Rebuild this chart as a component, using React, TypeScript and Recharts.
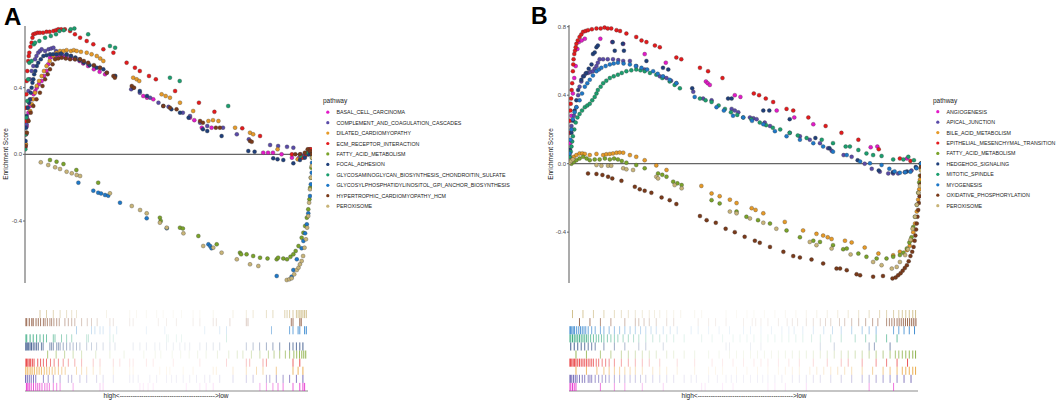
import { ReferenceLine, Scatter, ScatterChart, XAxis, YAxis } from 'recharts';

type Pt = [number, number];

const FONT = '"Liberation Sans", Arial, Helvetica, sans-serif';

// ---------- panel A ----------
const A_NAMES = [
  'BASAL_CELL_CARCINOMA',
  'COMPLEMENT_AND_COAGULATION_CASCADES',
  'DILATED_CARDIOMYOPATHY',
  'ECM_RECEPTOR_INTERACTION',
  'FATTY_ACID_METABOLISM',
  'FOCAL_ADHESION',
  'GLYCOSAMINOGLYCAN_BIOSYNTHESIS_CHONDROITIN_SULFATE',
  'GLYCOSYLPHOSPHATIDYLINOSITOL_GPI_ANCHOR_BIOSYNTHESIS',
  'HYPERTROPHIC_CARDIOMYOPATHY_HCM',
  'PEROXISOME',
];
const A_COLORS = ['#e31ac8', '#5a4ba8', '#e69a28', '#e41a1c', '#7aa32a', '#1f3f7a', '#1b9e6e', '#1e78c8', '#7a3a1a', '#c8b478'];

const A_BASAL: Pt[] = [[0.2,0.05],[0.4,0.12],[0.6,0.17],[0.9,0.21],[1.2,0.25],[1.7,0.29],[2.3,0.33],[3,0.36],[3.6,0.38],[4.1,0.4],[4.8,0.42],[5.8,0.44],[6.6,0.47],[7.5,0.5],[8.1,0.54],[8.7,0.58],[9.6,0.585],[10.5,0.59],[11.5,0.59],[12.5,0.585],[13.6,0.585],[14.6,0.58],[16,0.575],[17.5,0.57],[19,0.56],[20.3,0.545],[22,0.53],[24,0.51],[26,0.495],[27.9,0.48],[41.2,0.35],[42.5,0.34],[44.7,0.33],[57.5,0.22],[59,0.205],[61.6,0.16],[65,0.16],[83,0.01],[84.7,0.01],[86.4,0.01],[89.4,0],[93,-0.02],[95.5,-0.02],[97,-0.01],[98,0],[99,0.02],[99.6,0.015],[100,0.01]];
const A_COMPLEMENT: Pt[] = [[0.2,0.06],[0.5,0.18],[0.8,0.28],[1.2,0.38],[1.7,0.45],[2.3,0.5],[2.9,0.53],[3.5,0.57],[4,0.59],[4.6,0.61],[5.2,0.62],[5.8,0.63],[7,0.62],[8.2,0.63],[9.1,0.635],[9.9,0.64],[10.8,0.62],[11.8,0.605],[13,0.6],[14.5,0.595],[16,0.59],[17.6,0.58],[19,0.57],[20.3,0.556],[22,0.545],[24,0.53],[26.1,0.52],[28.5,0.49],[37,0.39],[40,0.37],[43.6,0.34],[46.5,0.31],[50,0.285],[55,0.25],[57.5,0.23],[61,0.19],[63.5,0.17],[69,0.16],[73.8,0.12],[78,0.09],[85.4,0.056],[88.2,0.05],[91.3,0.045],[93.5,0.04],[96,0],[97.5,-0.01],[99,0],[100,0]];
const A_DILATED: Pt[] = [[0.3,0.06],[0.6,0.13],[1.2,0.2],[1.8,0.26],[2.4,0.3],[2.9,0.33],[3.5,0.37],[4.1,0.41],[4.9,0.44],[5.8,0.47],[6.6,0.5],[7.5,0.53],[8.6,0.56],[9.9,0.59],[11,0.61],[12.2,0.62],[13.4,0.62],[14.5,0.625],[16,0.62],[17,0.625],[18,0.62],[19.5,0.615],[21.5,0.61],[23.2,0.6],[25,0.59],[26.2,0.575],[27.3,0.56],[31.4,0.47],[37.7,0.46],[38.9,0.45],[39.8,0.44],[47.6,0.36],[49,0.35],[50.5,0.34],[54,0.31],[58.6,0.26],[63.9,0.2],[65.5,0.205],[67.4,0.2],[73.2,0.16],[78.4,0.13],[79.5,0.12],[88,0.03],[95,-0.03],[97,-0.02],[98.5,0],[99.3,0.03],[100,0.02]];
const A_ECM: Pt[] = [[0.1,0.04],[0.2,0.12],[0.3,0.2],[0.4,0.28],[0.5,0.36],[0.6,0.44],[0.8,0.5],[1.1,0.56],[1.3,0.59],[1.5,0.61],[1.9,0.645],[2.3,0.67],[2.6,0.7],[2.9,0.72],[3.6,0.725],[4.4,0.73],[5.2,0.73],[6.3,0.73],[7.5,0.735],[8.6,0.735],[9.9,0.74],[10.8,0.745],[11.6,0.75],[12.6,0.75],[13.9,0.75],[15.7,0.74],[17.4,0.72],[19.2,0.7],[21.5,0.68],[23.8,0.66],[27.3,0.63],[30.8,0.61],[35.4,0.55],[38.3,0.52],[40,0.5],[43.2,0.47],[45.6,0.45],[52.3,0.38],[60.6,0.31],[66,0.255],[75.7,0.156],[81.9,0.11],[93,0],[96.5,-0.02],[98,0],[99,0.03],[99.6,0.03],[100,0]];
const A_FATTY: Pt[] = [[8.7,-0.034],[11,-0.044],[13.4,-0.058],[17.9,-0.094],[25.5,-0.17],[47,-0.38],[47.3,-0.4],[54,-0.44],[55,-0.445],[60.4,-0.49],[66.8,-0.54],[74.9,-0.59],[75.3,-0.6],[77.2,-0.6],[79.5,-0.61],[81.9,-0.62],[84.5,-0.625],[87.7,-0.63],[88.2,-0.62],[90,-0.625],[91.3,-0.63],[92.5,-0.615],[93.5,-0.6],[94.3,-0.58],[95.3,-0.55],[96.4,-0.5],[97,-0.47],[97.6,-0.43],[98.2,-0.38],[98.7,-0.33],[99.1,-0.27],[99.4,-0.2],[99.6,-0.14],[99.8,-0.08],[100,-0.02]];
const A_FOCAL: Pt[] = [[0.2,0.08],[0.4,0.16],[0.6,0.23],[1,0.28],[1.4,0.31],[1.7,0.33],[2,0.37],[2.3,0.4],[2.6,0.43],[2.9,0.45],[3.2,0.48],[3.6,0.5],[4.1,0.53],[4.6,0.55],[5.5,0.57],[6.4,0.59],[7.5,0.595],[8.7,0.6],[9.8,0.6],[11,0.6],[12.5,0.605],[14.5,0.6],[16,0.59],[17.5,0.58],[19,0.565],[20.5,0.55],[22.5,0.535],[25,0.52],[27.3,0.51],[31.4,0.47],[37.7,0.4],[40,0.38],[42.5,0.35],[48.2,0.29],[51,0.27],[54,0.25],[57,0.22],[62,0.15],[63.5,0.14],[68.5,0.11],[77.8,0.02],[80,0.016],[86.5,-0.024],[88,-0.03],[90,-0.034],[93.5,-0.054],[95.8,-0.034],[97.5,-0.02],[98.8,0],[100,0]];
const A_GLYCO: Pt[] = [[0.1,0.03],[0.3,0.12],[0.5,0.22],[0.8,0.32],[1.1,0.45],[1.5,0.55],[2.3,0.56],[3.1,0.66],[3.5,0.67],[5,0.68],[7,0.7],[9,0.71],[10.8,0.72],[12,0.74],[13.5,0.745],[15.9,0.75],[17.2,0.755],[22,0.72],[29.6,0.65],[31.4,0.64],[50.5,0.46],[53.9,0.44],[70.8,0.29],[96,-0.01],[98,0.01],[100,0]];
const A_GPI: Pt[] = [[18.6,-0.17],[23.8,-0.218],[25.5,-0.23],[26.5,-0.235],[27.9,-0.244],[29,-0.248],[33.1,-0.29],[42.4,-0.384],[49.4,-0.444],[63.9,-0.54],[64.5,-0.55],[65,-0.564],[87.7,-0.73],[92.9,-0.734],[93.5,-0.694],[94.7,-0.63],[96.4,-0.564],[97,-0.52],[97.6,-0.474],[98.2,-0.42],[98.7,-0.354],[99.3,-0.25],[99.6,-0.18],[99.9,-0.11],[100,-0.05]];
const A_HCM: Pt[] = [[0.2,0.05],[0.6,0.13],[1.2,0.2],[2,0.25],[2.9,0.29],[4,0.33],[5.2,0.37],[6.1,0.41],[7,0.45],[7.9,0.48],[8.7,0.51],[9.6,0.54],[10.5,0.57],[11.6,0.575],[12.8,0.58],[14.2,0.575],[15.7,0.57],[17.4,0.57],[19.2,0.57],[20.5,0.56],[22,0.55],[24,0.535],[26.1,0.52],[28.5,0.49],[30.8,0.47],[31.3,0.46],[37.2,0.41],[38,0.4],[48.2,0.29],[50.5,0.28],[52.8,0.27],[61,0.2],[62,0.19],[66.5,0.16],[67.9,0.16],[78.4,0.08],[79,0.075],[94.2,0],[95.8,0],[97.5,0.01],[98.5,0.03],[99.3,0.02],[100,0]];
const A_PEROX: Pt[] = [[5.5,-0.048],[8.1,-0.064],[10.5,-0.078],[12.2,-0.088],[14.5,-0.104],[16.3,-0.114],[18,-0.124],[19.2,-0.13],[29.6,-0.234],[37.2,-0.31],[40.1,-0.334],[42.4,-0.354],[47,-0.41],[49.4,-0.44],[55.2,-0.474],[62.1,-0.55],[65.6,-0.56],[68.5,-0.59],[73.8,-0.63],[78.4,-0.66],[81.3,-0.67],[91.2,-0.754],[92.1,-0.75],[92.9,-0.744],[93.8,-0.72],[94.7,-0.694],[95.3,-0.68],[95.8,-0.66],[96.4,-0.64],[96.9,-0.61],[97.4,-0.56],[97.9,-0.51],[98.3,-0.44],[98.7,-0.37],[99,-0.29],[99.3,-0.21],[99.6,-0.14],[99.9,-0.07],[100,-0.02]];

// gene positions of each gene set in the ranked list (rug rows)
const A_RUG_BASAL = [0.5,1,1.5,2.2,3,3.8,4.5,5.2,6,7,7.8,8.6,10,11.2,12.4,17,26.5,27.6,40.6,41.8,43.5,45.3,57,61.8,64,66.5,83,85.3,87.6,89.4,91.2,94.7,97.1,98.2,98.8];
const A_RUG_COMPLEMENT = [0.2,0.8,1.5,2.2,3,3.8,6.5,8.2,10,12.4,15.3,16.5,19.4,21.8,25.3,27.6,31.2,37,38.2,40,44.1,46.5,50,51.8,53.5,55.9,58.2,60.6,63.5,65.3,68.8,73.5,78.2,80.6,85.3,86.5,88.8,91.2,93.5,95.9,98.2];
const A_RUG_DILATED = [0.3,1,1.8,2.5,3.3,4.2,5,5.8,6.8,7.7,8.6,9.6,10.6,11.8,13,14.2,18.2,20,21.8,24.1,26.5,31.2,37,38.2,47.6,50,51.2,55.9,59.4,66.5,67.6,73.5,78.2,81.8,84.1,88.8,94.7,96.5,98.2];
const A_RUG_ECM = [0,0.5,1,1.5,2,2.6,3.2,4.5,5.5,6.5,7.6,9,10.3,11.8,13.5,15.3,17.6,20,24.1,26.5,31.2,33.5,37,38.2,42.9,45.3,52.4,61.8,71.2,78.2,79.4,84.1,85.3,94.7,97.1];
const A_RUG_FATTY = [8,11,14,17,20,25,30,35,42,46,48,52,55,58,61,64,68,72,75,77,80,83,86,88,90,92,93.5,95,96,97,97.8,98.5,99.2];
const A_RUG_FOCAL = [0,0.4,0.8,1.3,1.8,2.3,2.9,3.5,4.1,4.7,5.8,6.4,8.8,9.4,10,11.2,11.8,12.4,13.5,14.7,15.9,17,18.2,19.4,21.8,23.5,25.3,27.6,30,31.8,38.2,40.6,42.9,45.9,47.6,50,52.4,54.7,56.5,58.2,61.8,64.1,66.5,68.8,78.2,80.6,82.9,85.3,87.6,90,93.5,94.7,95.9,97.1,98.2];
const A_RUG_GLYCO = [0,0.6,1.8,2.9,4.1,5.3,6.5,7.6,10,10.6,12.9,14.7,16.5,21.8,22.4,30,31.2,50,50.6,53.5,55.3,71.2];
const A_RUG_GPI = [18.2,23.5,24.7,26.5,27.6,30,32.4,42.9,49.4,63.5,68.8,71.2,87.1,93.5,94.7,96.5,97.1,98.8,99.4];
const A_RUG_HCM = [0,0.6,1.5,2.4,2.9,3.9,4.7,5.5,6.5,7.1,7.9,8.8,9.4,10.2,11.2,12.1,14.1,15.3,16.5,17.6,20,22,23.5,25.5,30,31.2,37,38.2,47.1,50,53.5,59.4,61.8,66.5,67.6,72.4,78.2,78.8,94.1,94.7,97.1,97.6];
const A_RUG_PEROX = [5.3,7.6,10,12.4,14.7,16.5,18.2,28.8,37,39.4,42.9,46.5,48.8,52.4,55.3,59.4,61.8,66.5,73.5,78.2,80.6,85.3,87.6,91.8,92.6,93.5,94.7,95.9,96.5,97.1,97.6,98.2,98.8,99.4];

// ---------- panel B ----------
const B_NAMES = [
  'ANGIOGENESIS',
  'APICAL_JUNCTION',
  'BILE_ACID_METABOLISM',
  'EPITHELIAL_MESENCHYMAL_TRANSITION',
  'FATTY_ACID_METABOLISM',
  'HEDGEHOG_SIGNALING',
  'MITOTIC_SPINDLE',
  'MYOGENESIS',
  'OXIDATIVE_PHOSPHORYLATION',
  'PEROXISOME',
];
const B_COLORS = A_COLORS;

const B_ANGIO: Pt[] = [[0.3,0.12],[0.7,0.28],[1.1,0.41],[1.5,0.5],[1.9,0.57],[2.4,0.67],[2.8,0.71],[3.6,0.72],[4.5,0.73],[8.9,0.73],[12.3,0.71],[15.4,0.7],[21.5,0.64],[27.5,0.59],[38.9,0.48],[39.4,0.47],[40,0.46],[47.1,0.4],[48.7,0.39],[59,0.31],[64,0.27],[69.4,0.23],[85.7,0.096],[87.6,0.1],[96,0.03],[100,0]];
const B_APICAL: Pt[] = [[0.2,0.08],[0.7,0.22],[1.4,0.28],[2.1,0.33],[2.6,0.4],[3,0.45],[3.5,0.48],[4,0.51],[4.7,0.525],[5.4,0.53],[6.1,0.535],[6.8,0.54],[7.3,0.555],[7.8,0.57],[8.2,0.59],[8.7,0.61],[9.7,0.61],[11,0.61],[12.5,0.61],[14,0.605],[15.4,0.6],[17.3,0.6],[19.1,0.57],[21.5,0.55],[25.8,0.51],[26.8,0.505],[27.7,0.5],[29,0.485],[30.5,0.47],[35.3,0.42],[38.1,0.38],[40.5,0.37],[46.2,0.32],[47.1,0.31],[48.1,0.3],[51.4,0.27],[52.4,0.265],[53.3,0.26],[55.6,0.24],[57.1,0.22],[62.7,0.18],[65.6,0.16],[68.4,0.14],[71.3,0.12],[73.6,0.09],[74.6,0.076],[78,0.05],[80.3,0.04],[84,0],[86,-0.03],[88.3,-0.047],[90.7,-0.057],[92.1,-0.057],[93.5,-0.057],[95.4,-0.05],[97.3,-0.04],[98.7,-0.025],[100,0]];
const B_BILE: Pt[] = [[0.7,0.03],[1.4,0.04],[2.1,0.05],[3,0.06],[3.8,0.06],[4.5,0.057],[5.9,0.05],[7.8,0.057],[9.7,0.05],[10.6,0.055],[11.6,0.057],[12.5,0.06],[13.5,0.064],[14.4,0.065],[15.4,0.064],[17.3,0.05],[19.1,0.04],[21.5,0.02],[24.8,-0.01],[27.7,-0.037],[37.6,-0.13],[40.5,-0.174],[42.8,-0.19],[45.7,-0.21],[47.6,-0.23],[51.9,-0.26],[53,-0.27],[55.2,-0.29],[61.3,-0.34],[66.5,-0.39],[70.3,-0.41],[72.2,-0.42],[73.5,-0.43],[74.6,-0.44],[78.4,-0.45],[80.3,-0.46],[84,-0.49],[87.9,-0.525],[92.1,-0.535],[94,-0.515],[96,-0.505],[96.8,-0.48],[97.3,-0.447],[97.8,-0.4],[98.3,-0.35],[98.8,-0.28],[99.2,-0.21],[99.5,-0.15],[99.7,-0.094],[100,-0.03]];
const B_EMT: Pt[] = [[0.1,0.05],[0.2,0.18],[0.3,0.25],[0.4,0.31],[0.5,0.35],[0.6,0.38],[0.75,0.43],[0.9,0.47],[1.1,0.54],[1.2,0.58],[1.3,0.61],[1.5,0.64],[1.7,0.66],[1.9,0.68],[2.1,0.7],[2.5,0.72],[3,0.74],[3.5,0.755],[4,0.77],[4.7,0.775],[5.4,0.78],[6.5,0.785],[7.8,0.79],[9,0.79],[10.1,0.795],[11,0.79],[12,0.79],[13.5,0.78],[14.5,0.775],[16.3,0.76],[19.1,0.74],[20.6,0.72],[22,0.71],[24.4,0.69],[25.8,0.68],[30.5,0.62],[31.9,0.61],[37.2,0.56],[39.5,0.54],[43.6,0.5],[52.5,0.41],[54,0.4],[55.9,0.38],[58,0.36],[61.8,0.32],[63.7,0.31],[68,0.27],[72.9,0.22],[77.4,0.18],[82.2,0.14],[88,0.084],[94,0.03],[97,0.016],[100,0]];
const B_FATTY: Pt[] = [[0.7,0],[1.4,0.01],[2.1,0.02],[3,0.03],[4,0.04],[5,0.03],[5.9,0.02],[7.3,0.025],[8.7,0.025],[10.2,0.03],[11.6,0.025],[12.8,0.03],[13.9,0.025],[15,0.015],[16.3,0.006],[19.1,-0.008],[21.5,-0.027],[25.3,-0.057],[26.5,-0.065],[27.7,-0.076],[29.6,-0.105],[30.8,-0.115],[32,-0.125],[40.5,-0.213],[42.8,-0.232],[47.6,-0.28],[50.4,-0.31],[53.7,-0.33],[57.1,-0.35],[61.8,-0.39],[65.6,-0.43],[69.4,-0.45],[71.3,-0.457],[75,-0.476],[77.9,-0.5],[78.9,-0.496],[82.2,-0.525],[84.5,-0.544],[87.4,-0.554],[90.2,-0.554],[92.1,-0.544],[94,-0.534],[95,-0.52],[96,-0.495],[96.7,-0.46],[97.3,-0.43],[97.8,-0.37],[98.3,-0.31],[98.8,-0.24],[99.2,-0.17],[99.5,-0.11],[99.7,-0.07],[100,-0.02]];
const B_HEDGEHOG: Pt[] = [[0.3,0.08],[0.7,0.18],[1.2,0.25],[1.6,0.31],[2.1,0.37],[2.6,0.43],[3.5,0.49],[4.2,0.51],[4.9,0.53],[5.6,0.555],[6.4,0.58],[6.8,0.64],[7.3,0.65],[7.8,0.68],[8.2,0.69],[12.4,0.71],[13,0.66],[15.3,0.7],[15.6,0.66],[22,0.6],[26.7,0.56],[28.2,0.55],[35,0.44],[45.2,0.38],[46.2,0.38],[55.2,0.31],[56.9,0.31],[62.7,0.26],[70,0.15],[74,0.09],[82,0.02],[88,-0.04],[92,-0.05],[96,-0.045],[98.5,-0.02],[100,0]];
const B_MITOTIC: Pt[] = [[0.1,0.01],[0.2,0.04],[0.5,0.07],[0.7,0.1],[0.9,0.13],[1.1,0.16],[1.5,0.2],[1.9,0.24],[2.4,0.27],[3,0.29],[3.7,0.31],[4.5,0.33],[5.2,0.34],[5.9,0.35],[6.6,0.37],[7.3,0.39],[7.8,0.41],[8.2,0.43],[9,0.45],[9.7,0.47],[10.6,0.485],[11.6,0.5],[12.7,0.51],[13.9,0.52],[15,0.53],[16.3,0.54],[17.7,0.545],[19.1,0.55],[20.3,0.545],[21.5,0.54],[23,0.53],[24.8,0.52],[26.5,0.5],[28.6,0.48],[30,0.46],[31.5,0.44],[37.2,0.38],[38.8,0.37],[40.5,0.36],[42.5,0.34],[44.3,0.32],[46,0.3],[47.8,0.285],[49.5,0.27],[51.8,0.26],[54.2,0.24],[56,0.225],[57.9,0.21],[60,0.2],[62.7,0.18],[65,0.165],[67.5,0.15],[71.8,0.14],[75,0.12],[78.6,0.1],[79.8,0.1],[82.2,0.08],[84.5,0.06],[86.4,0.05],[88.8,0.045],[92.1,0.025],[95,0.025],[96.4,0.04],[98,0.02],[100,0]];
const B_MYOGENESIS: Pt[] = [[0.2,0.06],[0.4,0.14],[0.7,0.2],[1.1,0.26],[1.6,0.3],[2.1,0.33],[3,0.37],[3.7,0.41],[4.5,0.45],[5.2,0.47],[5.9,0.49],[6.8,0.515],[7.8,0.54],[8.5,0.55],[9.2,0.56],[10.4,0.57],[11.6,0.58],[12.7,0.585],[13.9,0.59],[15.5,0.585],[17.3,0.58],[19,0.57],[20.6,0.56],[22.2,0.55],[23.9,0.54],[25.2,0.525],[26.7,0.51],[28.6,0.49],[30.5,0.47],[35.7,0.39],[41.9,0.33],[44,0.31],[46.6,0.28],[49.5,0.27],[52,0.25],[55.2,0.23],[58.5,0.19],[61.8,0.16],[65.6,0.14],[69.4,0.12],[72.2,0.1],[75,0.07],[78.9,0.05],[82.7,0.012],[85.5,0.002],[88.8,-0.008],[91,-0.03],[92.5,-0.045],[94,-0.053],[95.5,-0.05],[97,-0.047],[98.7,-0.027],[100,0]];
const B_OXPHOS: Pt[] = [[5.4,-0.057],[7.8,-0.06],[9.5,-0.066],[11.1,-0.076],[12.3,-0.086],[14.9,-0.1],[18.7,-0.135],[20.1,-0.15],[21.5,-0.158],[23.4,-0.17],[26.3,-0.197],[28.6,-0.213],[30.5,-0.236],[37.2,-0.306],[39.1,-0.33],[41.7,-0.345],[44.5,-0.38],[47.1,-0.4],[49.9,-0.427],[52.8,-0.45],[54.2,-0.462],[57.1,-0.486],[60.9,-0.515],[63.7,-0.54],[65.6,-0.548],[68.9,-0.56],[72.2,-0.583],[76,-0.613],[77,-0.613],[78.9,-0.622],[81.7,-0.646],[82.7,-0.652],[86.4,-0.66],[89.2,-0.656],[91.9,-0.67],[92.8,-0.665],[93.5,-0.652],[94.2,-0.64],[94.8,-0.625],[95.4,-0.61],[96,-0.593],[96.5,-0.57],[97,-0.54],[97.5,-0.515],[97.9,-0.486],[98.2,-0.45],[98.4,-0.42],[98.6,-0.385],[98.8,-0.35],[99,-0.31],[99.2,-0.27],[99.4,-0.23],[99.6,-0.19],[99.8,-0.12],[99.9,-0.07],[100,-0.02]];
const B_PEROX: Pt[] = [[0.2,0.006],[0.6,0.015],[1.1,0.025],[7.8,-0.008],[9.2,-0.012],[11.1,-0.012],[12,-0.012],[15.4,-0.027],[16.3,-0.033],[18.2,-0.037],[24.8,-0.076],[25.3,-0.086],[30,-0.125],[32,-0.144],[45.7,-0.28],[47.6,-0.29],[51.4,-0.32],[55.2,-0.345],[58.9,-0.38],[68.4,-0.457],[70.3,-0.476],[74.6,-0.496],[80,-0.53],[86.4,-0.574],[88.8,-0.593],[91.7,-0.613],[93.1,-0.603],[94,-0.574],[95.5,-0.534],[96.3,-0.5],[97,-0.445],[97.6,-0.38],[98.3,-0.31],[98.8,-0.24],[99.3,-0.17],[99.7,-0.13],[100,-0.04]];

const B_RUG_ANGIO = [0,0.5,1,1.5,2,9,13,16,21,27,38,39,44,47,57,59,62,68,86,93];
const B_RUG_APICAL = [0,0.4,0.8,1.3,1.8,2.3,3,3.8,4.5,5.5,6,6.5,7.5,8.5,9.5,10.5,11.5,13,14.5,16,17.5,19,20.5,22,24,26,28,30,33,35,36.5,40,42.5,45,46.5,48,50,52,54,55.5,57,59,61,64,66,68,70,72,75,78,81,84,86,88,90,92,94,96,98];
const B_RUG_BILE = [2,5,8,10,11.5,13,14.5,16,17.5,19,21,24,26,28,31,36,40,42,44,48,51,54,57,60,62,64,66,69,71,73,75,77,79,81,84,87,90,92,94,95.5,96.5,97.5,98.5,99.3];
const B_RUG_EMT = [0,0.4,0.8,1.2,1.6,2,2.5,3,3.5,4,4.5,5,5.5,6,6.5,7,7.8,8.5,9.5,10.5,11.5,13,15,17,19,21,23,26,31,36,41,44,47,50,53,55,57,60,63,66,70,74,78,80,84,88,91,94,97];
const B_RUG_FATTY = [2,5,9,12,15,17,19,21,23,25,28,30,33,36,40,43,46,48,50,52,54,56,58,60,62,64,66,68,70,72,74,76,78,80,82,84,86,88,90,92,93.5,94.5,95.5,96.5,97.5,98.5,99.3];
const B_RUG_HEDGEHOG = [0.5,1.5,2.5,3.5,4.5,5.5,6.5,7.5,10,13,16,20,22,27,45,46,52,55,72,76,86,87.5,92];
const B_RUG_MITOTIC = [0,0.5,1,1.5,2,2.5,3,3.5,4,4.5,5,5.5,6.2,7,7.8,8.5,9.3,10,11,12,13,14,15.5,17,18.5,20,22,24,26,28,30,33,38,41,44,47,49,51,53,55,57,59,61,63,65,67,69.5,72,75,78,82,85,88,91,94];
const B_RUG_MYOGENESIS = [0,0.4,0.8,1.2,1.6,2.2,2.8,3.3,3.8,4.3,4.8,5.5,6.5,7.5,9,10,11.5,13,14.5,16,17.5,19,20.5,22,23.5,25,27,29,31,35,37,40,43,46,50,52,55,58,61,63,64.5,67,70,73,75.5,78,81,84,86,88,93,94.5,96,97.5,99];
const B_RUG_OXPHOS = [3,6,9,12,16,19,20,21.5,23,25,28,30,37,40,42,45,50,52.5,53.5,55,57,60,62.5,64,65.5,68,70,72,73.5,75,77.5,79,81,83,85,87,88.5,91,91.8,92.5,93.2,94,94.6,95.2,95.8,96.4,97,97.6,98.2,98.8,99.4];
const B_RUG_PEROX = [1,4,7,10,13,15,17,19,21,23,24.5,26,28,30,32,36,38,45,48,51,53,56,59,62,65,68,71,74,77,80,83,86,89,91,93,94.5,95.5,96.5,97.5,98.5,99.3];

const A_SERIES = [A_BASAL, A_COMPLEMENT, A_DILATED, A_ECM, A_FATTY, A_FOCAL, A_GLYCO, A_GPI, A_HCM, A_PEROX];
const A_RUGS = [A_RUG_BASAL, A_RUG_COMPLEMENT, A_RUG_DILATED, A_RUG_ECM, A_RUG_FATTY, A_RUG_FOCAL, A_RUG_GLYCO, A_RUG_GPI, A_RUG_HCM, A_RUG_PEROX];
const B_SERIES = [B_ANGIO, B_APICAL, B_BILE, B_EMT, B_FATTY, B_HEDGEHOG, B_MITOTIC, B_MYOGENESIS, B_OXPHOS, B_PEROX];
const B_RUGS = [B_RUG_ANGIO, B_RUG_APICAL, B_RUG_BILE, B_RUG_EMT, B_RUG_FATTY, B_RUG_HEDGEHOG, B_RUG_MITOTIC, B_RUG_MYOGENESIS, B_RUG_OXPHOS, B_RUG_PEROX];

const A_Y_TICKS = [-0.4, 0, 0.4];
const B_Y_TICKS = [-0.4, 0, 0.4, 0.8];

const RUG_ROW_H = 8.1;

// rank metric gets stronger towards both ends of the list
const rugStrength = (x: number) => 0.08 + 0.78 * Math.pow(Math.abs(x - 50) / 50, 2.6);

const esDot = (props: any) => (
  <circle cx={props.cx} cy={props.cy} r={2} fill={props.fill} stroke="#333" strokeWidth={0.3} />
);

const rugTick = (props: any) => (
  <rect
    x={props.cx - 0.5}
    y={props.cy - RUG_ROW_H / 2}
    width={1}
    height={RUG_ROW_H}
    fill={props.fill}
    fillOpacity={rugStrength(props.payload.x)}
  />
);

type PanelProps = {
  left: number;
  width: number;
  axisW: number;
  top: number;
  right: number;
  rugRight: number;
  yDomain: [number, number];
  yTicks: number[];
  colors: string[];
  series: Pt[][];
  rugs: number[][];
};

function Panel({ left, width, axisW, top, right, rugRight, yDomain, yTicks, colors, series, rugs }: PanelProps) {
  return (
    <>
      <div style={{ position: 'absolute', left, top: 0 }}>
        <ScatterChart width={width} height={300} margin={{ top, right, bottom: 17, left: 0 }}>
          <XAxis type="number" dataKey="x" domain={[0, 100]} hide allowDataOverflow />
          <YAxis
            type="number"
            dataKey="y"
            domain={yDomain}
            ticks={yTicks}
            allowDataOverflow
            width={axisW}
            tickSize={2}
            tickMargin={1}
            tickFormatter={(v: number) => v.toFixed(1)}
            tick={{ fontSize: 6, fill: '#4d4d4d', fontFamily: FONT }}
            axisLine={{ stroke: '#666', strokeWidth: 1.1 }}
            tickLine={{ stroke: '#666' }}
          />
          <ReferenceLine y={0} stroke="#666" strokeWidth={1.1} />
          {series.map((s, i) => (
            <Scatter
              key={i}
              data={s.map(([x, y]) => ({ x, y }))}
              fill={colors[i]}
              shape={esDot}
              isAnimationActive={false}
            />
          ))}
        </ScatterChart>
      </div>
      <div style={{ position: 'absolute', left, top: 300 }}>
        <ScatterChart width={width} height={100} margin={{ top: 10, right: rugRight, bottom: 9, left: axisW }}>
          <XAxis type="number" dataKey="x" domain={[0, 100]} hide allowDataOverflow />
          <YAxis type="number" dataKey="y" domain={[0, 10]} hide allowDataOverflow />
          {rugs.map((r, i) => (
            <Scatter
              key={i}
              data={r.map((x) => ({ x, y: i + 0.5 }))}
              fill={colors[i]}
              shape={rugTick}
              isAnimationActive={false}
            />
          ))}
          <ReferenceLine y={0} stroke="#8c8c8c" strokeWidth={1.2} />
        </ScatterChart>
      </div>
    </>
  );
}

function LegendBlock({ x, y, names, colors }: { x: number; y: number; names: string[]; colors: string[] }) {
  return (
    <g fontFamily={FONT}>
      <text x={x} y={y} fontSize={6.5} fill="#1a1a1a">pathway</text>
      {names.map((n, i) => (
        <g key={n}>
          <circle cx={x + 4.8} cy={y + 9.2 + i * 10.44} r={1.6} fill={colors[i]} />
          <text x={x + 13.5} y={y + 11.2 + i * 10.44} fontSize={5.3} fill="#1a1a1a">{n}</text>
        </g>
      ))}
    </g>
  );
}

const RANK_LABEL = 'high<' + '-'.repeat(44) + '>low';

export default function App() {
  return (
    <div style={{ position: 'absolute', left: 0, top: 0, width: 1059, height: 403, background: '#fff', overflow: 'hidden' }}>
      <Panel
        left={0}
        width={330}
        axisW={25}
        top={26}
        right={18}
        rugRight={22}
        yDomain={[-0.772, 0.77]}
        yTicks={A_Y_TICKS}
        colors={A_COLORS}
        series={A_SERIES}
        rugs={A_RUGS}
      />
      <Panel
        left={530}
        width={400}
        axisW={39}
        top={25}
        right={9}
        rugRight={12}
        yDomain={[-0.697, 0.81]}
        yTicks={B_Y_TICKS}
        colors={B_COLORS}
        series={B_SERIES}
        rugs={B_RUGS}
      />
      <svg width={1059} height={403} style={{ position: 'absolute', left: 0, top: 0, pointerEvents: 'none' }}>
        <text x={4} y={25} fontFamily={FONT} fontWeight="bold" fontSize={24} fill="#000">A</text>
        <text x={531} y={24} fontFamily={FONT} fontWeight="bold" fontSize={23} fill="#000">B</text>
        <text x={8.3} y={154} transform="rotate(-90 8.3 154)" textAnchor="middle" fontFamily={FONT} fontSize={6.5} fill="#1a1a1a">
          Enrichment Score
        </text>
        <text x={552.5} y={154} transform="rotate(-90 552.5 154)" textAnchor="middle" fontFamily={FONT} fontSize={6.5} fill="#1a1a1a">
          Enrichment Score
        </text>
        <LegendBlock x={323} y={103} names={A_NAMES} colors={A_COLORS} />
        <LegendBlock x={933} y={102.5} names={B_NAMES} colors={B_COLORS} />
        <text x={166} y={397.5} textAnchor="middle" fontFamily={FONT} fontSize={6.5} fill="#1a1a1a">{RANK_LABEL}</text>
        <text x={744} y={397.5} textAnchor="middle" fontFamily={FONT} fontSize={6.5} fill="#1a1a1a">{RANK_LABEL}</text>
      </svg>
    </div>
  );
}
